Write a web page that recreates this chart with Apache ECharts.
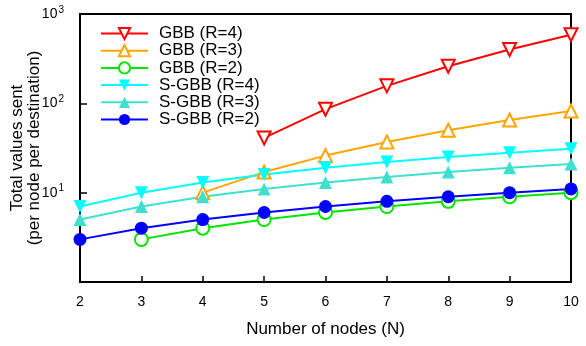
<!DOCTYPE html>
<html><head><meta charset="utf-8">
<script src="https://cdn.jsdelivr.net/npm/echarts@6/dist/echarts.min.js"></script>
<style>html,body{margin:0;padding:0;background:#fff}#c{width:586px;height:346px}</style>
</head><body><div id="c"></div>
<script>
const nodes = [2, 3, 4, 5, 6, 7, 8, 9, 10];
const gbbR4 = [null, null, null, 41, 86, 157, 260, 401, 586];
const gbbR3 = [null, null, 10, 17, 26, 37, 50, 65, 82];
const gbbR2 = [null, 3, 4, 5, 6, 7, 8, 9, 10];
const sgbbR4 = [7, 10, 13, 16, 19, 22, 25, 28, 31];
const sgbbR3 = [5, 7, 9, 11, 13, 15, 17, 19, 21];
const sgbbR2 = [3, 4, 5, 6, 7, 8, 9, 10, 11];
const seriesNames = ['GBB (R=4)', 'GBB (R=3)', 'GBB (R=2)', 'S-GBB (R=4)', 'S-GBB (R=3)', 'S-GBB (R=2)'];
const xTicks = [2, 3, 4, 5, 6, 7, 8, 9, 10];

const FONT = '"Liberation Sans", Arial, Helvetica, sans-serif';
function pairs(arr) {
  const out = [];
  arr.forEach((v, i) => { if (v != null) out.push([nodes[i], v]); });
  return out;
}
const defs = [
  {data: gbbR4, color: '#ff0000', symbol: 'emptyTriangle', rot: 180},
  {data: gbbR3, color: '#ffa500', symbol: 'emptyTriangle', rot: 0},
  {data: gbbR2, color: '#00e600', symbol: 'emptyCircle', rot: 0},
  {data: sgbbR4, color: '#00ffff', symbol: 'triangle', rot: 180},
  {data: sgbbR3, color: '#40e0d0', symbol: 'triangle', rot: 0},
  {data: sgbbR2, color: '#0000ff', symbol: 'circle', rot: 0}
];
const series = defs.map((d, i) => ({
  name: seriesNames[i],
  type: 'line',
  data: pairs(d.data),
  symbol: d.symbol,
  symbolSize: 13,
  symbolRotate: d.rot,
  showAllSymbol: true,
  animation: false,
  lineStyle: {color: d.color, width: 2},
  itemStyle: {color: d.color, borderWidth: 2},
  emphasis: {disabled: true}
}));

const chart = echarts.init(document.getElementById('c'));
chart.setOption({
  animation: false,
  backgroundColor: '#fff',
  grid: {left: 80, right: 15, top: 14, bottom: 64, containLabel: false, outerBoundsMode: 'none',
    show: true, borderColor: '#000', borderWidth: 2, backgroundColor: 'transparent'},
  legend: {
    orient: 'vertical', left: 100, top: 25, padding: 0,
    itemWidth: 47, itemHeight: 14, itemGap: 0.2,
    textStyle: {fontFamily: FONT, fontSize: 17, lineHeight: 16, color: '#000', padding: [0, 0, 0, 6]},
    inactiveColor: '#ccc',
    data: seriesNames
  },
  xAxis: {
    type: 'value', min: 2, max: 10, interval: 1,
    name: 'Number of nodes (N)', nameLocation: 'middle', nameGap: 39, nameMoveOverlap: false,
    nameTextStyle: {fontFamily: FONT, fontSize: 17, color: '#000'},
    axisLine: {show: true, lineStyle: {color: '#000', width: 2}},
    axisTick: {show: true, inside: true, length: 6, lineStyle: {color: '#000', width: 1.5}},
    axisLabel: {fontFamily: FONT, fontSize: 14, color: '#000', margin: 13,
      formatter: v => xTicks.includes(v) ? String(v) : ''},
    splitLine: {show: false}
  },
  yAxis: {
    type: 'log', logBase: 10, min: 1, max: 1000,
    name: 'Total values sent\n(per node per destination)', nameLocation: 'middle', nameGap: 37, nameMoveOverlap: false,
    nameTextStyle: {fontFamily: FONT, fontSize: 17, color: '#000', lineHeight: 17},
    axisLine: {show: true, lineStyle: {color: '#000', width: 2}},
    axisTick: {show: true, inside: true, length: 7, lineStyle: {color: '#000', width: 1.5}},
    minorTick: {show: false},
    axisLabel: {
      margin: 16, color: '#000',
      formatter: v => {
        const e = Math.round(Math.log10(v));
        if (e === 0) return '';
        return '{b|10}{s|' + e + '}';
      },
      rich: {
        b: {fontFamily: FONT, fontSize: 14, color: '#000'},
        s: {fontFamily: FONT, fontSize: 10, color: '#000', verticalAlign: 'bottom', padding: [0, 0, 8, 1]}
      }
    },
    splitLine: {show: false}
  },
  series: series
});
</script>
</body></html>
